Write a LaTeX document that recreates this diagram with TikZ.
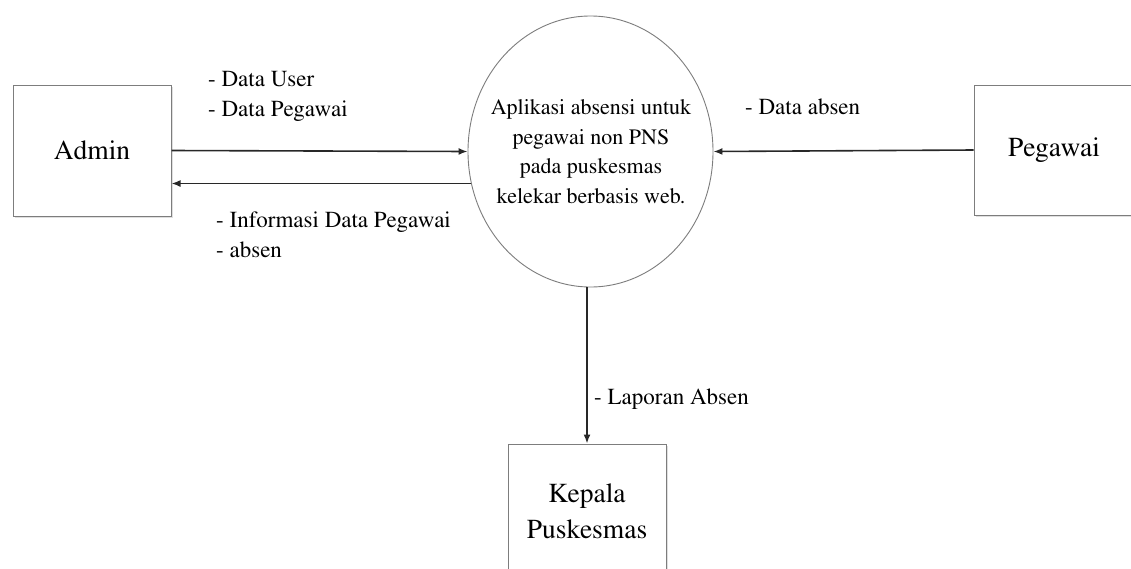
\documentclass[tikz,border=0pt]{standalone}
\usepackage[T1]{fontenc}
\usepackage{mathptmx}
\usetikzlibrary{shapes.geometric,arrows.meta,shadows,calc}
\definecolor{boxline}{RGB}{125,125,125}
\definecolor{arrline}{RGB}{40,40,40}
\begin{document}
\begin{tikzpicture}[x=1pt,y=-1pt,
  entity/.style={draw=boxline,line width=1pt,fill=white,rectangle,inner sep=0pt,
    drop shadow={shadow xshift=1.5pt,shadow yshift=-2pt,opacity=.25},
    font=\fontsize{27.5}{36}\selectfont,align=center},
  proc/.style={draw=boxline,line width=0.9pt,ellipse,inner sep=0pt,fill=white,
    minimum width=245pt,minimum height=271pt},
  proctext/.style={font=\fontsize{22}{29.5}\selectfont,align=center,inner sep=0pt},
  arr/.style={draw=arrline,line width=1.6pt,-{Latex[length=9pt,width=7pt]}},
  lbl/.style={font=\fontsize{23}{30}\selectfont,anchor=base west,inner sep=0pt,align=left}
]
\useasboundingbox (0,0) rectangle (1131,568);
\clip (0,0) rectangle (1131,568);
% entities
\node[entity,minimum width=158pt,minimum height=131pt] (admin) at (92,150.5) {Admin};
\node[entity,minimum width=160pt,minimum height=130pt] (pegawai) at (1054,150) {Pegawai};
\node[entity,minimum width=158pt,minimum height=150pt] (kepala) at (587,519) {};
\node[font=\fontsize{27.5}{36}\selectfont,anchor=base,inner sep=0pt] (kep1) at (587,502) {Kepala};
\node[font=\fontsize{27.5}{36}\selectfont,anchor=base,inner sep=0pt] (kep2) at (587,538) {Puskesmas};
% process
\node[proc] (sys) at (590.5,151.5) {};
\node[proctext,anchor=base] (syst) at (591,203) {Aplikasi absensi untuk\\pegawai non PNS\\pada puskesmas\\kelekar berbasis web.};
% flows
\draw[arr] (admin.east) -- (sys.west);
\draw[arr] (sys.195.8) -- (sys.195.8 -| admin.east);
\draw[arr] (pegawai.west) -- (sys.east);
\draw[arr] (kepala.north |- sys.south) -- (kepala.north);
% labels
\node[lbl] (l1) at (208,86) {- Data User};
\node[lbl] (l2) at (208,116) {- Data Pegawai};
\node[lbl] (l3) at (216,227) {- Informasi Data Pegawai};
\node[lbl] (l4) at (216,257) {- absen};
\node[lbl] (l5) at (745,114) {- Data absen};
\node[lbl] (l6) at (594,404) {- Laporan Absen};
\end{tikzpicture}
\end{document}
